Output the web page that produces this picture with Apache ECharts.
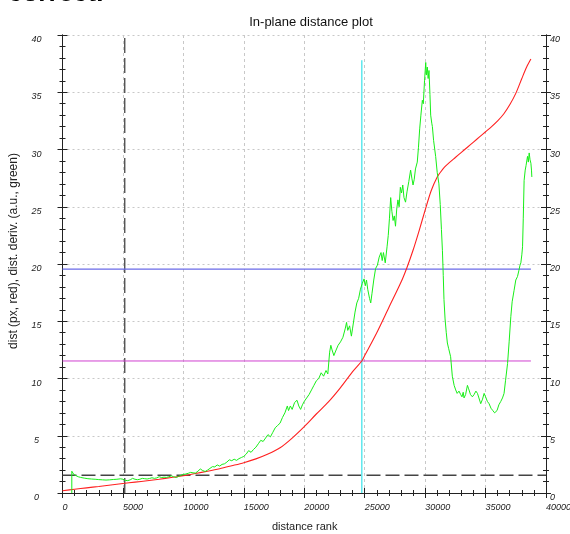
<!DOCTYPE html>
<html>
<head>
<meta charset="utf-8">
<script src="https://cdn.jsdelivr.net/npm/echarts@6/dist/echarts.min.js"></script>
<style>
  html, body { margin: 0; padding: 0; background: #fff; }
  #chart { width: 570px; height: 534px; }
</style>
</head>
<body>
<div id="chart"></div>
<script>
// Distance (px) against distance rank
const distRed = [
  [0,0.2],[1000,0.33],[2000,0.45],[3000,0.57],[4000,0.7],[5000,0.83],[6000,0.95],[7000,1.07],
  [8000,1.2],[9000,1.35],[10000,1.5],[11000,1.7],[12000,1.9],[13000,2.12],[14000,2.38],
  [15000,2.65],[16000,2.98],[17000,3.4],[18000,3.95],[19000,4.8],[20000,5.8],[21000,6.9],
  [22000,7.95],[23000,9.2],[24000,10.6],[24760,11.53],[25000,12.0],[26000,14.0],[27000,16.2],
  [28000,18.4],[28500,19.7],[29000,21.2],[29500,22.9],[30000,24.7],[30500,26.4],[31000,27.6],
  [31300,28.06],[31600,28.45],[32000,28.85],[32500,29.3],[33000,29.75],[33500,30.2],[34000,30.65],
  [34500,31.1],[35000,31.55],[35500,32.0],[36000,32.5],[36500,33.1],[37000,33.9],[37500,34.9],
  [38000,36.2],[38400,37.2],[38750,37.9]
];

// Distance derivative (arbitrary units) against distance rank
const derivGreen = [
  [770,0],[770,1.9],[850,1.75],[950,1.6],[1100,1.5],[1300,1.42],[1500,1.36],[1800,1.3],[2100,1.25],
  [2400,1.22],[2700,1.2],[3000,1.17],[3300,1.15],[3600,1.13],[3900,1.15],[4200,1.18],[4500,1.2],
  [4800,1.24],[5000,1.2],[5200,1.1],[5400,1.08],[5600,1.15],[5800,1.28],[6000,1.2],[6200,1.16],
  [6400,1.2],[6600,1.28],[6800,1.25],[7000,1.22],[7200,1.27],[7400,1.33],[7600,1.28],[7800,1.32],
  [8000,1.42],[8200,1.35],[8400,1.38],[8600,1.36],[8800,1.42],[9000,1.5],[9200,1.42],[9400,1.35],
  [9600,1.45],[9800,1.55],[10000,1.62],[10200,1.66],[10400,1.72],[10600,1.8],[10800,1.76],
  [11000,1.74],[11200,1.9],[11400,2.1],[11600,1.96],[11800,1.88],[12000,2.0],[12200,2.15],
  [12400,2.3],[12600,2.28],[12800,2.45],[13000,2.35],[13200,2.5],[13400,2.55],[13600,2.7],
  [13800,2.9],[14000,2.82],[14200,2.95],[14400,2.85],[14600,3.0],[14800,3.1],[15000,3.2],
  [15200,3.4],[15400,3.7],[15600,3.55],[15800,3.8],[16000,4.0],[16200,4.3],[16400,4.6],
  [16600,4.5],[16800,4.8],[17000,5.1],[17200,4.9],[17400,5.3],[17600,5.7],[17800,5.9],[18000,6.1],
  [18200,6.6],[18400,7.0],[18600,7.6],[18700,7.2],[18850,7.6],[19000,7.3],[19200,7.9],[19400,8.1],
  [19550,7.6],[19700,7.3],[19850,7.7],[20000,8.0],[20200,8.3],[20400,8.6],[20600,9.0],[20800,9.4],
  [21000,9.8],[21200,10.0],[21400,10.5],[21600,10.2],[21800,10.7],[21950,10.4],[22100,12.3],
  [22200,12.9],[22300,12.5],[22450,12.0],[22600,12.4],[22800,12.9],[23000,13.2],[23200,13.6],
  [23400,14.4],[23500,14.9],[23600,14.2],[23750,14.6],[23900,13.7],[24000,14.4],[24200,15.8],
  [24350,16.6],[24500,17.0],[24650,17.8],[24800,18.3],[24950,18.7],[25050,18.1],[25150,18.6],
  [25250,17.8],[25400,17.0],[25500,16.6],[25600,17.4],[25750,18.6],[25900,19.6],[26050,19.9],
  [26200,20.6],[26350,21.0],[26450,20.3],[26550,21.0],[26700,20.1],[26850,21.5],[26950,22.5],
  [27050,24.0],[27150,25.8],[27250,24.6],[27350,23.8],[27450,24.2],[27550,23.3],[27650,24.8],
  [27750,25.6],[27850,25.0],[27950,26.7],[28050,26.2],[28150,26.9],[28250,25.8],[28380,25.4],
  [28500,26.3],[28650,27.2],[28800,28.2],[28900,27.5],[29000,26.9],[29100,27.4],[29200,28.3],
  [29350,28.9],[29450,30.2],[29550,31.8],[29650,33.0],[29770,34.3],[29850,34.0],[29950,36.0],
  [30050,37.6],[30100,36.5],[30180,37.2],[30250,36.2],[30320,36.9],[30400,34.8],[30460,33.0],
  [30550,32.3],[30600,32.0],[30700,30.8],[30870,29.4],[31000,28.0],[31140,27.0],[31250,25.2],
  [31350,23.0],[31430,21.2],[31500,19.0],[31560,16.9],[31650,15.2],[31750,14.0],[31840,13.1],
  [31950,12.6],[32110,11.9],[32250,10.2],[32400,9.4],[32530,9.0],[32650,8.7],[32800,8.9],
  [32940,8.6],[33050,8.4],[33150,8.8],[33220,8.3],[33350,8.6],[33500,9.4],[33600,9.1],[33750,8.6],
  [33910,8.4],[34050,8.6],[34200,8.9],[34330,8.7],[34450,8.3],[34600,7.8],[34750,8.2],[34880,8.7],
  [35000,8.4],[35150,8.0],[35290,7.8],[35450,7.4],[35600,7.2],[35750,7.0],[35850,6.9],[35950,7.2],
  [36100,7.7],[36260,8.0],[36400,8.3],[36530,8.7],[36650,9.8],[36820,11.3],[36950,13.2],
  [37090,15.4],[37200,16.7],[37360,17.7],[37500,18.6],[37640,18.9],[37750,19.4],[37850,19.9],
  [37920,20.1],[38000,20.8],[38060,21.5],[38120,24.0],[38190,27.3],[38280,28.2],[38350,28.6],
  [38470,29.4],[38540,28.9],[38610,29.7],[38680,29.1],[38750,28.8],[38800,28.2],[38830,27.6]
];

// Reference lines
const blueLevel = [[0,19.55],[38750,19.55]];
const magentaLevel = [[0,11.53],[38750,11.53]];
const cyanRank = [[24760,0],[24760,37.8]];
const dashedLevel = [[0,1.55],[40000,1.55]];
const dashedRank = [[5150,0],[5150,40]];

// Axis ranges
const xMin = 0, xMax = 40000, xStep = 5000;
const yMin = 0, yMax = 40, yStep = 5;

const labelFont = { fontFamily: 'Liberation Sans, Arial, sans-serif', fontStyle: 'italic', fontSize: 9, color: '#222' };
const axisLineStyle = { color: '#222', width: 1 };

function yAxis(pos, inside, labels) {
  return {
    type: 'value', position: pos, min: yMin, max: yMax, interval: yStep,
    axisLine: { show: true, onZero: false, lineStyle: axisLineStyle },
    axisTick: { show: true, inside: inside, length: 5, lineStyle: axisLineStyle },
    minorTick: { show: true, splitNumber: 5, length: 3, lineStyle: axisLineStyle },
    axisLabel: labels ? Object.assign({
      show: true,
      margin: pos === 'left' ? 26 : 4,
      align: pos === 'left' ? 'center' : 'left',
      verticalAlign: 'top',
      formatter: v => String(v)
    }, labelFont) : { show: false },
    splitLine: { show: pos === 'left' && !inside, lineStyle: { color: '#c8c8c8', type: [2, 3], width: 1 } },
    minorSplitLine: { show: false }
  };
}

function xAxis(inside, labels) {
  return {
    type: 'value', position: 'bottom', min: xMin, max: xMax, interval: xStep,
    axisLine: { show: true, onZero: false, lineStyle: axisLineStyle },
    axisTick: { show: true, inside: inside, length: 5, lineStyle: axisLineStyle },
    minorTick: { show: true, splitNumber: 5, length: 3, lineStyle: axisLineStyle },
    axisLabel: labels ? Object.assign({ show: true, margin: 10, align: 'left', formatter: v => String(v) }, labelFont) : { show: false },
    splitLine: { show: !inside, lineStyle: { color: '#c8c8c8', type: [3, 3], width: 1 } },
    minorSplitLine: { show: false }
  };
}

function lineSeries(data, color, width, dash, z, smooth) {
  return {
    type: 'line', data: data, xAxisIndex: 0, yAxisIndex: 0,
    showSymbol: false, symbol: 'none', animation: false, silent: true, z: z,
    smooth: smooth || false,
    lineStyle: { color: color, width: width, type: dash || 'solid' }
  };
}

const chart = echarts.init(document.getElementById('chart'), null, { renderer: 'canvas' });
chart.setOption({
  animation: false,
  backgroundColor: '#fff',
  title: {
    text: 'In-plane distance plot', left: 306, top: 11, textAlign: 'center',
    textStyle: { fontFamily: 'Liberation Sans, Arial, sans-serif', fontWeight: 'normal', fontSize: 13, color: '#111' }
  },
  grid: { left: 62.5, top: 35, width: 483.5, height: 458, containLabel: false, outerBoundsMode: 'none' },
  xAxis: [xAxis(false, true), xAxis(true, false)],
  yAxis: [yAxis('left', false, true), yAxis('left', true, false), yAxis('right', false, true), yAxis('right', true, false)],
  graphic: [
    {
      type: 'text', x: 8, y: -19,
      style: { text: 'correct.', font: 'bold 26px Liberation Sans, Arial, sans-serif', fill: '#000', verticalAlign: 'top' }
    },
    {
      type: 'text', left: 272, top: 521,
      style: { text: 'distance rank', font: '11px Liberation Sans, Arial, sans-serif', fill: '#222' }
    },
    {
      type: 'text', x: 14, y: 251, rotation: Math.PI / 2,
      style: { text: 'dist (px, red), dist. deriv. (a.u., green)', font: '12px Liberation Sans, Arial, sans-serif',
               fill: '#222', align: 'center', verticalAlign: 'middle' }
    }
  ],
  series: [
    lineSeries(dashedRank, '#444', 1.3, [15, 5], 2),
    lineSeries(dashedLevel, '#444', 1.3, [14, 5], 2),
    lineSeries(magentaLevel, '#d040d0', 1, null, 3),
    lineSeries(blueLevel, '#6a6ae8', 1.4, null, 3),
    lineSeries(cyanRank, '#5ee8ee', 1.5, null, 3),
    lineSeries(distRed, '#ff2020', 1.1, null, 4, 0.3),
    lineSeries(derivGreen, '#18ee18', 1, null, 5)
  ]
});
</script>
</body>
</html>
